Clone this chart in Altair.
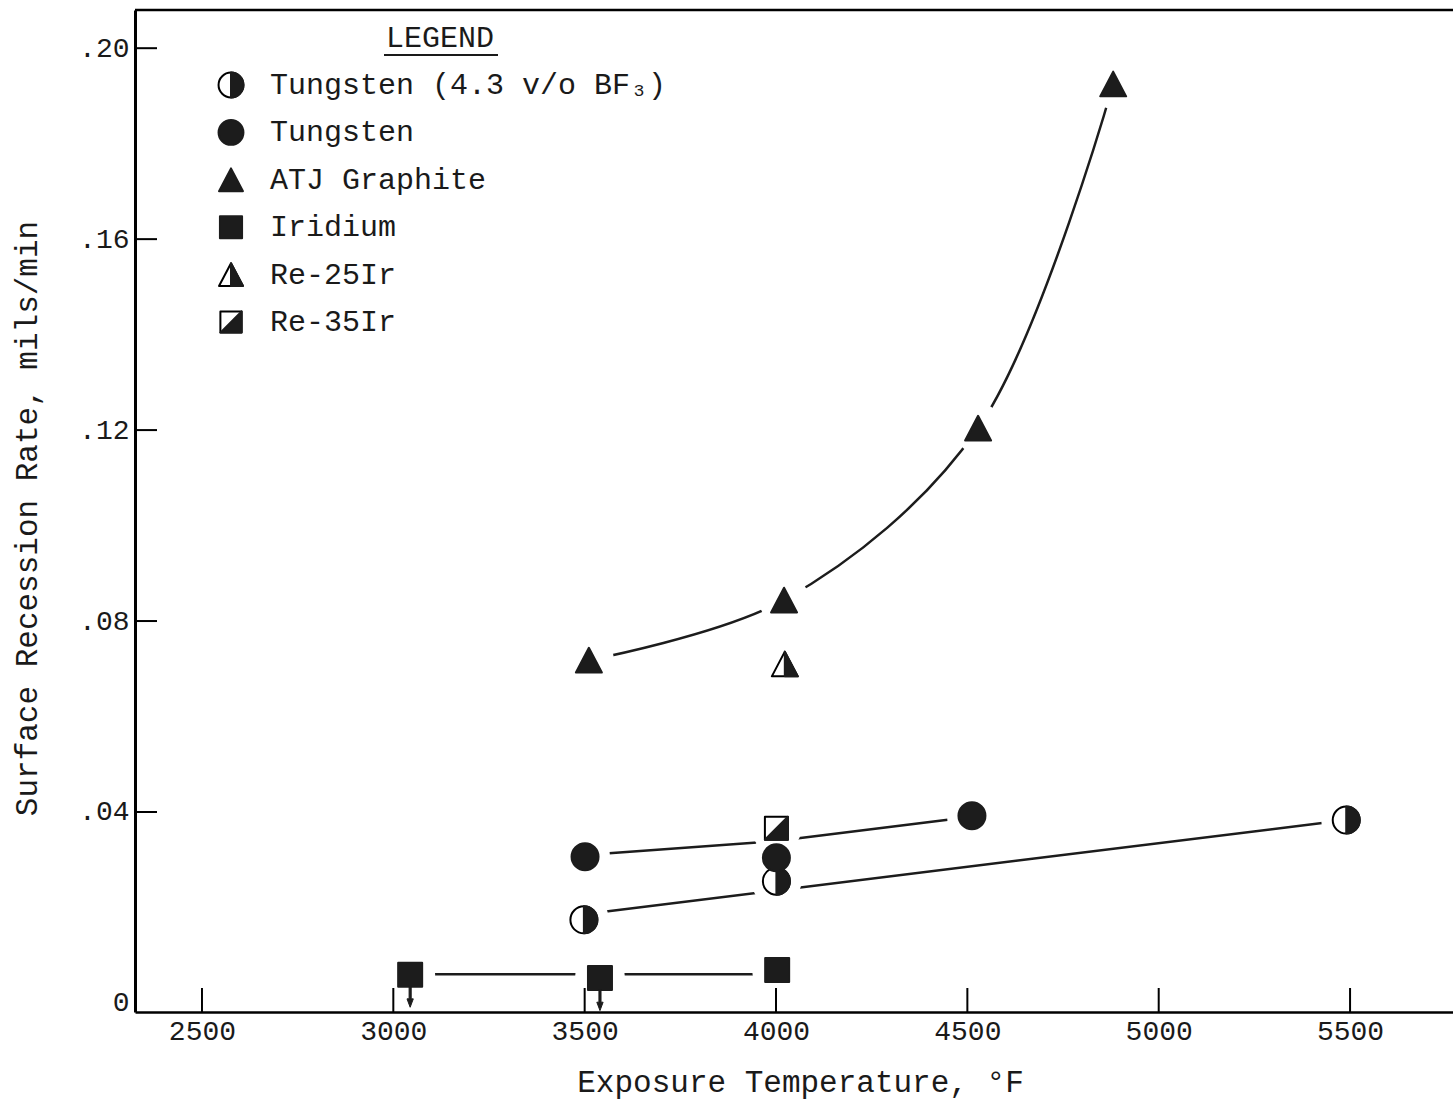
import altair as alt
import pandas as pd

# ---------------- data ----------------
series = ["Tungsten (4.3 v/o BF₃)", "Tungsten", "ATJ Graphite", "Iridium", "Re-25Ir", "Re-35Ir"]

bf3_T = [3498, 4001, 5490]
bf3_R = [0.0174, 0.0255, 0.0383]
w_T = [3501, 4001, 4512]
w_R = [0.0306, 0.0304, 0.0392]
atj_T = [3511, 4021, 4528, 4881]
atj_R = [0.0718, 0.0844, 0.1204, 0.1925]
ir_T = [3044, 3540, 4003]
ir_R = [0.0059, 0.0052, 0.0069]
ir_upper = [True, True, False]          # arrow = value is an upper bound
re25_T = [4023]
re25_R = [0.0710]
re35_T = [4001]
re35_R = [0.0366]

# faired lines as drawn on the chart
w_fit_T = [3501, 4001, 4512]
w_fit_R = [0.0310, 0.0339, 0.0390]
bf3_fit_T = [3498, 5490]
bf3_fit_R = [0.0186, 0.0383]
ir_fit_T = [3044, 4003]
ir_fit_R = [0.0060, 0.0060]

x_ticks = [2500, 3000, 3500, 4000, 4500, 5000, 5500]
y_ticks = [0, 0.04, 0.08, 0.12, 0.16, 0.20]

# ---------------- styling ----------------
W, H = 1318, 1002
FONT = "Liberation Mono"
INK = "#1c1c1c"
TXT = "#1a1a1a"

CIRCLE = "M-1,0A1,1 0 1,1 1,0A1,1 0 1,1 -1,0Z"
HALF_CIRCLE = "M0,-1A1,1 0 0,1 0,1Z"
TRI = "M0,-0.95L1,0.95L-1,0.95Z"
HALF_TRI = "M0,-0.95L1,0.95L0,0.95Z"
SQUARE = "M-1,-1L1,-1L1,1L-1,1Z"
HALF_SQ = "M1,-1L1,1L-1,1Z"
ARROW = "M-0.1,-1L0.1,-1L0.1,0.2L0.3,0.2L0,1L-0.3,0.2L-0.1,0.2Z"

# outline (white) shape, filled shape, symbol size
style = {
    series[0]: (CIRCLE, HALF_CIRCLE, 27 ** 2),
    series[1]: (None, CIRCLE, 27 ** 2),
    series[2]: (None, TRI, 26 ** 2),
    series[3]: (None, SQUARE, 24 ** 2),
    series[4]: (TRI, HALF_TRI, 26 ** 2),
    series[5]: (SQUARE, HALF_SQ, 23 ** 2),
}

data_sets = [
    (series[0], bf3_T, bf3_R),
    (series[1], w_T, w_R),
    (series[2], atj_T, atj_R),
    (series[3], ir_T, ir_R),
    (series[4], re25_T, re25_R),
    (series[5], re35_T, re35_R),
]

bg_rows, fg_rows = [], []
for name, T, R in data_sets:
    outline, filled, size = style[name]
    for t, r in zip(T, R):
        if outline:
            bg_rows.append({"series": name, "T": t, "R": r, "shape": outline, "size": size})
        fg_rows.append({"series": name, "T": t, "R": r, "shape": filled, "size": size})
bg = pd.DataFrame(bg_rows)
fg = pd.DataFrame(fg_rows)
all_pts = fg.copy()

arrows = pd.DataFrame({"T": ir_T, "R": ir_R, "up": ir_upper})
arrows = arrows[arrows["up"]]

atj_line = pd.DataFrame({"T": atj_T, "R": atj_R})
lin_rows = []
for name, T, R in [(series[1], w_fit_T, w_fit_R), (series[0], bf3_fit_T, bf3_fit_R),
                   (series[3], ir_fit_T, ir_fit_R)]:
    for t, r in zip(T, R):
        lin_rows.append({"series": name, "T": t, "R": r})
lin = pd.DataFrame(lin_rows)

xs = alt.Scale(domain=[2325, 5769], nice=False, zero=False)
ys = alt.Scale(domain=[-0.0019, 0.208], nice=False, zero=False)

xaxis = alt.Axis(values=x_ticks, format="d", ticks=False, grid=False, domainColor="black", domainWidth=2.5,
                 labelFont=FONT, labelFontSize=28, labelColor=TXT, labelPadding=5,
                 title="Exposure Temperature, °F", titleFont=FONT, titleFontSize=31,
                 titleFontWeight="normal", titleColor=TXT, titleX=665, titleY=70,
                 titleBaseline="middle", titleAlign="center")
yaxis = alt.Axis(values=y_ticks, ticks=False, grid=False, domainColor="black", domainWidth=3,
                 labelFont=FONT, labelFontSize=28, labelColor=TXT, labelPadding=6,
                 labelExpr="datum.value == 0 ? '0' : replace(format(datum.value, '.2f'), '0.', '.')",
                 title="Surface Recession Rate, mils/min", titleFont=FONT, titleFontSize=31,
                 titleFontWeight="normal", titleColor=TXT, titleX=-108, titleY=508,
                 titleAngle=270, titleBaseline="middle", titleAlign="center")

X = alt.X("T:Q", scale=xs, axis=xaxis)
Y = alt.Y("R:Q", scale=ys, axis=yaxis)

curve = alt.Chart(atj_line).mark_line(color=INK, strokeWidth=2.5, interpolate="catmull-rom").encode(x=X, y=Y)
lines = alt.Chart(lin).mark_line(color=INK, strokeWidth=2.5).encode(x=X, y=Y, detail="series:N")

halos = alt.Chart(all_pts).mark_point(filled=True, fill="white", stroke=None, opacity=1,
                                      shape="circle", size=50 ** 2).encode(x=X, y=Y)

xt = alt.Chart(pd.DataFrame({"T": x_ticks})).mark_rule(color="black", strokeWidth=2).encode(
    x=X, y=alt.value(H - 24), y2=alt.value(H))
yt = alt.Chart(pd.DataFrame({"R": y_ticks[1:]})).mark_rule(color="black", strokeWidth=2).encode(
    y=Y, x=alt.value(0), x2=alt.value(22))
top = alt.Chart(pd.DataFrame({"T": [x_ticks[0]]})).mark_rule(color="black", strokeWidth=2.5).encode(
    x=alt.value(0), x2=alt.value(W), y=alt.value(0))

bg_m = alt.Chart(bg).mark_point(filled=True, fill="white", stroke="black", strokeWidth=2,
                                strokeJoin="round", opacity=1).encode(
    x=X, y=Y, shape=alt.Shape("shape:N", scale=None), size=alt.Size("size:Q", scale=None))
fg_m = alt.Chart(fg).mark_point(filled=True, fill=INK, stroke=INK, strokeWidth=2,
                                strokeJoin="round", opacity=1).encode(
    x=X, y=Y, shape=alt.Shape("shape:N", scale=None), size=alt.Size("size:Q", scale=None))
arr = alt.Chart(arrows).mark_point(filled=True, fill=INK, stroke=INK, strokeWidth=1,
                                   shape=ARROW, size=21 ** 2, yOffset=22, opacity=1).encode(x=X, y=Y)

# ---------------- legend (drawn in pixel space) ----------------
leg_rows_bg, leg_rows_fg, leg_txt = [], [], []
for i, name in enumerate(series):
    outline, filled, size = style[name]
    ly = 75 + 47.4 * i
    if outline:
        leg_rows_bg.append({"lx": 96, "ly": ly, "shape": outline, "size": size * 0.85})
    leg_rows_fg.append({"lx": 96, "ly": ly, "shape": filled, "size": size * 0.85})
    leg_txt.append({"lx": 135, "ly": ly, "label": name})

LX = lambda f: alt.X(f, scale=None, axis=None)
LY = lambda f: alt.Y(f, scale=None, axis=None)

leg_bg = alt.Chart(pd.DataFrame(leg_rows_bg)).mark_point(filled=True, fill="white", stroke="black",
                                                         strokeWidth=2, strokeJoin="round", opacity=1).encode(
    x=LX("lx:Q"), y=LY("ly:Q"), shape=alt.Shape("shape:N", scale=None), size=alt.Size("size:Q", scale=None))
leg_fg = alt.Chart(pd.DataFrame(leg_rows_fg)).mark_point(filled=True, fill=INK, stroke=INK,
                                                         strokeWidth=2, strokeJoin="round", opacity=1).encode(
    x=LX("lx:Q"), y=LY("ly:Q"), shape=alt.Shape("shape:N", scale=None), size=alt.Size("size:Q", scale=None))
leg_text = alt.Chart(pd.DataFrame(leg_txt)).mark_text(font=FONT, fontSize=30, align="left",
                                                      baseline="middle", color=TXT).encode(
    x=LX("lx:Q"), y=LY("ly:Q"), text="label:N")
leg_title = alt.Chart(pd.DataFrame({"lx": [305], "ly": [28], "label": ["LEGEND"]})).mark_text(
    font=FONT, fontSize=30, align="center", baseline="middle", color=TXT).encode(
    x=LX("lx:Q"), y=LY("ly:Q"), text="label:N")
leg_ul = alt.Chart(pd.DataFrame({"x0": [249], "x1": [363], "ly": [45]})).mark_rule(
    color=TXT, strokeWidth=2).encode(x=LX("x0:Q"), x2="x1:Q", y=LY("ly:Q"))

chart = alt.layer(
    curve, lines, halos, xt, yt, top, bg_m, fg_m, arr,
    leg_bg, leg_fg, leg_text, leg_title, leg_ul,
).properties(
    width=W, height=H,
    padding={"left": 135, "top": 10, "right": 0, "bottom": 87},
    autosize=alt.AutoSizeParams(type="none"),
    background="white",
).configure_view(stroke=None)

chart.save("out.html", embed_options={"renderer": "svg", "actions": False})
